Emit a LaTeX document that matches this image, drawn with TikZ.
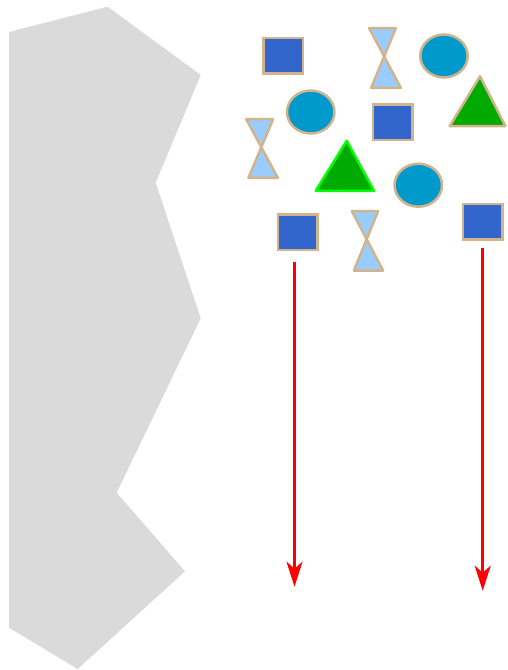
\documentclass[tikz,border=0pt]{standalone}
\usetikzlibrary{arrows.meta,shapes.geometric}
\definecolor{tanb}{HTML}{D2B48C}
\definecolor{sqfill}{HTML}{3366CC}
\definecolor{elfill}{HTML}{0099CC}
\definecolor{hgfill}{HTML}{99CCFF}
\definecolor{trfill}{HTML}{00AA00}
\definecolor{trlime}{HTML}{00FF00}
\definecolor{rockgray}{HTML}{DADADA}
\tikzset{
  sqbox/.style={draw=tanb, fill=sqfill, line width=2.5pt, rectangle, minimum width=39.5pt, minimum height=35.5pt, inner sep=0pt},
  elbox/.style={draw=tanb, fill=elfill, line width=2.5pt, ellipse, minimum width=47.5pt, minimum height=43pt, inner sep=0pt},
  hglass/.style={draw=tanb, fill=hgfill, line width=2.5pt, line join=round},
  trtan/.style={draw=tanb, fill=trfill, line width=2.5pt, line join=round},
  trgreen/.style={draw=trlime, fill=trfill, line width=2.5pt, line join=round},
  redarrow/.style={draw=red, line width=2.5pt, -{Stealth[length=25pt, width=16pt, inset=7pt]}}
}
\begin{document}
\begin{tikzpicture}[x=1pt,y=-1pt]
\useasboundingbox (0,0) rectangle (507,670);
% gray rock shape
\fill[rockgray] (9,32) -- (107.7,6.7) -- (200.7,75) -- (155.7,182.7) -- (200.7,318.3)
  -- (116.7,492.7) -- (185,571.3) -- (77.7,669) -- (9,627.7) -- cycle;
% squares
\node[sqbox] (sq1) at (283,55.5) {};
\node[sqbox] (sq2) at (392.5,122.2) {};
\node[sqbox] (sq3) at (297.7,232.2) {};
\node[sqbox] (sq4) at (482.8,221.5) {};
% ellipses
\node[elbox] (el1) at (444,56) {};
\node[elbox] (el2) at (310.7,112) {};
\node[elbox] (el3) at (418.3,185.2) {};
% hourglasses
\path[hglass] (369.2,28.2) -- (395.8,28.2) -- (371.2,87.8) -- (400.8,87.8) -- cycle;
\path[hglass] (246.2,119.2) -- (273.1,119.2) -- (248.5,177.8) -- (277.8,177.8) -- cycle;
\path[hglass] (351.9,211.2) -- (378.1,211.2) -- (353.9,270.5) -- (383.1,270.5) -- cycle;
% triangles
\path[trtan] (480,76.3) -- (505.4,126) -- (449.8,126) -- cycle;
\path[trgreen] (346.7,140.8) -- (374,190.8) -- (315.8,190.8) -- cycle;
% arrows
\coordinate (a1s) at (294.5,262);
\coordinate (a1e) at (294.5,586.7);
\coordinate (a2s) at (482.7,247.7);
\coordinate (a2e) at (482.7,590.7);
\draw[redarrow] (a1s) -- (a1e);
\draw[redarrow] (a2s) -- (a2e);
\end{tikzpicture}
\end{document}
